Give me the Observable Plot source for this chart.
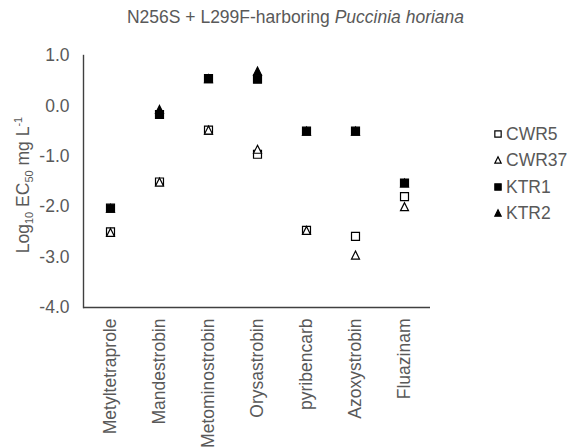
<!DOCTYPE html>
<html><head><meta charset="utf-8">
<script src="https://cdn.jsdelivr.net/npm/d3@7"></script>
<script src="https://cdn.jsdelivr.net/npm/@observablehq/plot@0.6"></script>
<style>
body{margin:0;background:#fff;font-family:"Liberation Sans",Arial,sans-serif;color:#595959;}
#wrap{position:relative;width:581px;height:448px;}
#title{position:absolute;top:7px;left:0;width:591px;text-align:center;font-size:17.5px;}
#chart{position:absolute;top:40px;left:0;}
#legend{position:absolute;left:492px;top:121px;font-size:17.5px;line-height:26.3px;}
#legend div{display:flex;align-items:center;height:26.3px;}
#legend svg{margin-right:2px;}
</style></head>
<body><div id="wrap"><div id="title">N256S + L299F-harboring <i>Puccinia horiana</i></div><div id="chart"></div><div id="legend"></div></div>
<script>
const categories = ["Metyltetraprole","Mandestrobin","Metominostrobin","Orysastrobin","pyribencarb","Azoxystrobin","Fluazinam"];
const seriesNames = ["CWR5","CWR37","KTR1","KTR2"];
const CWR5  = [-2.50, -1.51, -0.48, -0.96, -2.47, -2.59, -1.80];
const CWR37 = [-2.51, -1.51, -0.48, -0.86, -2.47, -2.96, -2.00];
const KTR1  = [-2.03, -0.17,  0.54,  0.53, -0.50, -0.50, -1.53];
const KTR2  = [-2.03, -0.07,  0.54,  0.69, -0.50, -0.50, -1.53];
const yTicks = [-4, -3, -2, -1, 0, 1];
const seriesVals = [CWR5, CWR37, KTR1, KTR2];
const fills = ["white","white","black","black"];

// Excel-style triangle: width = height = side of the equal-area square, centred on its box
const triUp = {draw(ctx, size) { const s = Math.sqrt(size) / 2; ctx.moveTo(0, -s); ctx.lineTo(s, s); ctx.lineTo(-s, s); ctx.closePath(); }};
const sqr = {draw(ctx, size) { const s = Math.sqrt(size) / 2; ctx.rect(-s, -s, 2 * s, 2 * s); }};
const symbols = [sqr, triUp, sqr, triUp];

const data = [];
seriesNames.forEach((s, si) => categories.forEach((c, ci) => data.push({series: s, cat: c, v: seriesVals[si][ci]})));

const plot = Plot.plot({
  width: 581, height: 408,
  marginLeft: 83, marginRight: 151, marginTop: 15, marginBottom: 141,
  style: {fontFamily: '"Liberation Sans", Arial, sans-serif', fontSize: "17.5px", color: "#595959", background: "white"},
  x: {type: "point", domain: categories, padding: 0.5, label: null},
  y: {domain: [-4, 1], ticks: yTicks, label: null},
  marks: [
    Plot.axisY({ticks: yTicks, tickSize: 0, tickPadding: 14, tickFormat: d => d.toFixed(1), label: null, fontSize: 17.5}),
    Plot.axisX({tickSize: 0, tickPadding: 11, tickRotate: -90, label: null, fontSize: 17.5}),
    ...seriesNames.map((s, si) => Plot.dot(data.filter(d => d.series === s), {
      x: "cat", y: "v", symbol: symbols[si], r: 4.5,
      fill: fills[si], stroke: "black", strokeWidth: 1.2
    })),
    Plot.ruleY([-4], {stroke: "#404040", strokeWidth: 1.4}),
    Plot.frame({anchor: "left", stroke: "#404040", strokeWidth: 1.4})
  ]
});
document.getElementById("chart").appendChild(plot);

// y-axis label with sub/superscripts
const svg = d3.select(plot);
const t = svg.append("text")
  .attr("transform", "translate(29,145) rotate(-90)")
  .attr("text-anchor", "middle")
  .attr("fill", "#595959")
  .attr("font-size", 17.5)
  .attr("font-family", '"Liberation Sans", Arial, sans-serif');
t.append("tspan").text("Log");
t.append("tspan").attr("font-size", 11).attr("dy", 4).text("10");
t.append("tspan").attr("dy", -4).text(" EC");
t.append("tspan").attr("font-size", 11).attr("dy", 4).text("50");
t.append("tspan").attr("dy", -4).text(" mg L");
t.append("tspan").attr("font-size", 11).attr("dy", -7).text("-1");

// legend
const leg = d3.select("#legend");
seriesNames.forEach((s, si) => {
  const row = leg.append("div");
  const sv = row.append("svg").attr("width", 12).attr("height", 12);
  sv.append("path")
    .attr("transform", "translate(6,6)")
    .attr("d", d3.symbol(symbols[si], 40)())
    .attr("fill", fills[si]).attr("stroke", "black").attr("stroke-width", 1.2);
  row.append("span").text(s);
});
</script></body></html>
